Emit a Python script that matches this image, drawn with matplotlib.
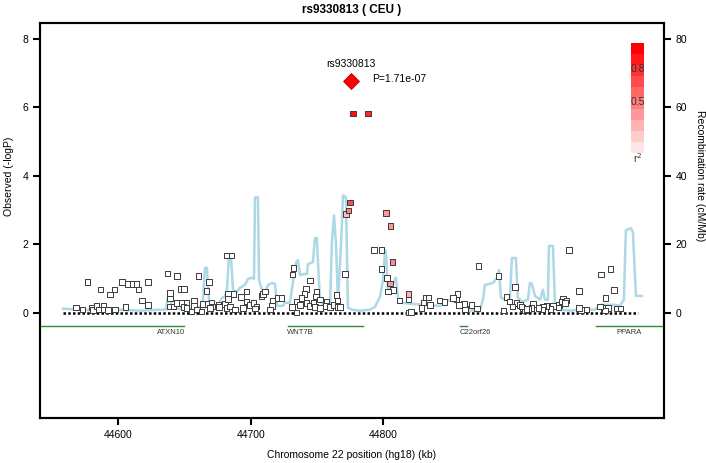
import numpy as np
import matplotlib
matplotlib.use("Agg")
import matplotlib.pyplot as plt
from matplotlib.colors import LinearSegmentedColormap

plt.rcParams['font.family'] = ['Liberation Sans', 'DejaVu Sans']

# ---------------- data ----------------
title = "rs9330813 ( CEU )"
lead_snp = "rs9330813"
lead_kb = 44775.5
lead_logp = 6.767
lead_p_label = "P=1.71e-07"

snp_kb = [
    44568.2, 44573.2, 44580.0, 44581.2, 44583.8, 44585.0, 44588.8, 44588.8, 44592.5, 44597.6,
    44605.4, 44576.7, 44586.5, 44597.1, 44593.8, 44602.9, 44607.6, 44611.0, 44614.0, 44615.2,
    44622.7, 44618.0, 44622.5, 44637.1, 44644.4, 44660.5, 44639.1, 44639.1, 44647.2, 44649.7,
    44639.1, 44641.6, 44644.6, 44648.0, 44651.7, 44649.2, 44657.2, 44657.2, 44664.2, 44667.3,
    44659.3, 44655.5, 44651.7, 44663.0, 44668.5, 44666.8,
    44681.9, 44685.7, 44683.1, 44686.9, 44692.5, 44697.0, 44670.6, 44671.3, 44669.3, 44675.6,
    44676.1, 44680.6, 44681.9, 44684.4, 44688.2, 44683.1, 44694.4, 44697.0, 44699.5, 44702.0,
    44704.5, 44703.3, 44708.3, 44709.5, 44710.8, 44716.6, 44715.9, 44720.1, 44723.4, 44714.6,
    44732.2, 44731.7, 44744.8, 44741.8, 44740.5, 44738.5, 44734.7, 44737.2, 44731.0, 44734.7,
    44742.3, 44744.8, 44749.8, 44749.3, 44752.3, 44747.3, 44748.5, 44752.3, 44757.4, 44756.8,
    44759.9, 44762.4, 44764.9, 44765.4, 44766.1, 44767.4,
    44777.2, 44788.5, 44775.0, 44773.7, 44772.0, 44771.2,
    44802.1, 44805.7, 44793.1, 44798.6, 44806.9, 44798.6, 44803.1, 44805.1, 44807.6, 44803.6,
    44812.2, 44819.0, 44819.0, 44819.7, 44821.0, 44829.1, 44830.3, 44832.1, 44834.1, 44835.3,
    44842.4, 44846.4, 44852.9, 44856.2, 44855.5, 44857.4, 44861.2, 44861.7, 44866.8, 44871.0,
    44871.8, 44886.9, 44890.7, 44893.2, 44895.2, 44899.5, 44900.8, 44903.3, 44897.7, 44905.3,
    44907.0, 44909.5,
    44940.2, 44964.4, 44971.7, 44948.0, 44974.2, 44967.9, 44935.9, 44934.7, 44938.5, 44937.2,
    44932.9, 44932.2, 44928.4, 44926.4, 44923.4, 44920.8, 44920.4, 44917.1, 44913.3, 44912.1,
    44908.3, 44904.5, 44948.0, 44949.3, 44953.6, 44963.6, 44966.6, 44969.9, 44967.4, 44976.2,
    44979.2,
]
snp_logp = [
    0.15, 0.09, 0.15, 0.07, 0.20, 0.09, 0.20, 0.09, 0.07, 0.09,
    0.17, 0.89, 0.68, 0.68, 0.53, 0.90, 0.84, 0.84, 0.84, 0.68,
    0.90, 0.35, 0.22, 1.15, 1.07, 1.07, 0.57, 0.42, 0.69, 0.69,
    0.18, 0.18, 0.28, 0.28, 0.28, 0.17, 0.36, 0.20, 0.26, 0.26,
    0.09, 0.04, 0.14, 0.04, 0.89, 0.64,
    1.67, 1.67, 0.56, 0.54, 0.46, 0.62, 0.28, 0.18, 0.14, 0.23,
    0.17, 0.25, 0.14, 0.18, 0.09, 0.40, 0.14, 0.33, 0.23, 0.28,
    0.18, 0.12, 0.49, 0.55, 0.62, 0.36, 0.20, 0.43, 0.43, 0.09,
    1.30, 1.12, 0.94, 0.69, 0.54, 0.43, 0.33, 0.23, 0.17, 0.01,
    0.28, 0.20, 0.62, 0.47, 0.38, 0.28, 0.17, 0.14, 0.33, 0.20,
    0.17, 0.23, 0.52, 0.36, 0.17, 0.17,
    5.83, 5.83, 3.22, 2.99, 2.88, 1.13,
    2.92, 2.53, 1.83, 1.83, 1.48, 1.27, 1.01, 0.85, 0.67, 0.62,
    0.36, 0.54, 0.38, 0.01, 0.02, 0.14, 0.30, 0.44, 0.44, 0.22,
    0.35, 0.32, 0.43, 0.55, 0.38, 0.23, 0.25, 0.11, 0.23, 0.12,
    1.37, 1.08, 0.06, 0.46, 0.33, 0.75, 0.28, 0.23, 0.18, 0.14,
    0.07, 0.11,
    1.83, 1.12, 1.27, 0.64, 0.67, 0.43, 0.40, 0.33, 0.35, 0.28,
    0.23, 0.15, 0.20, 0.11, 0.20, 0.18, 0.09, 0.14, 0.25, 0.14,
    0.11, 0.18, 0.14, 0.07, 0.09, 0.18, 0.14, 0.14, 0.06, 0.12,
    0.12,
]
# r^2 with lead SNP (0 = white)
snp_r2 = [0.0] * len(snp_kb)
r2_known = {
    (44777.2, 5.83): 0.95, (44788.5, 5.83): 0.85, (44775.0, 3.22): 0.7,
    (44773.7, 2.99): 0.5, (44772.0, 2.88): 0.25, (44802.1, 2.92): 0.4,
    (44805.7, 2.53): 0.4, (44806.9, 1.48): 0.45, (44805.1, 0.85): 0.4,
    (44819.0, 0.54): 0.3,
}
for i, (k, v) in enumerate(zip(snp_kb, snp_logp)):
    if (k, v) in r2_known:
        snp_r2[i] = r2_known[(k, v)]

recomb_kb = [
    44558.4, 44571.2, 44586.3, 44601.4, 44616.5, 44631.6, 44636.1, 44637.6, 44639.1, 44640.6,
    44654.2, 44661.8, 44664.0, 44665.5, 44667.0, 44668.5, 44670.8, 44675.3, 44678.4, 44680.6,
    44682.1, 44683.6, 44685.1, 44686.7, 44689.7, 44691.9, 44695.7, 44698.0, 44701.0, 44702.5,
    44703.3, 44705.5, 44706.3, 44708.5, 44710.8, 44713.1, 44716.1, 44718.4, 44719.9, 44724.4,
    44725.9, 44729.7, 44732.7, 44734.2, 44735.7, 44737.2, 44740.2, 44742.5, 44743.3, 44747.0,
    44748.5, 44750.0, 44750.8, 44752.3, 44754.6, 44759.9, 44761.4, 44762.9, 44764.4, 44765.9,
    44768.2, 44769.7, 44771.9, 44773.4, 44776.5, 44782.5, 44790.1, 44793.8, 44797.6, 44799.9,
    44801.4, 44802.1, 44803.6, 44806.7, 44809.0, 44809.7, 44811.2, 44814.2, 44820.2, 44831.6,
    44842.9, 44850.4, 44854.2, 44856.5, 44858.0, 44865.5, 44873.1, 44875.3, 44876.8, 44882.9,
    44885.9, 44887.4, 44888.9, 44891.9, 44895.7, 44897.2, 44900.2, 44901.7, 44904.8, 44909.3,
    44910.8, 44912.3, 44914.6, 44918.4, 44920.6, 44922.1, 44924.4, 44925.1, 44928.2, 44929.7,
    44933.4, 44941.0, 44948.5, 44959.9, 44963.6, 44975.0, 44978.7, 44981.7, 44983.2, 44987.0,
    44988.5, 44990.8, 44995.3,
]
recomb_rate = [
    1.16, 0.87, 0.58, 0.87, 0.58, 0.87, 0.87, 4.9, 4.9, 1.16,
    1.16, 1.45, 3.8, 13.1, 13.1, 3.8, 1.7, 2.0, 4.4, 4.6,
    6.7, 16.5, 16.5, 6.7, 6.1, 7.3, 8.1, 9.9, 10.2, 9.9,
    33.7, 33.7, 9.6, 6.7, 5.8, 8.1, 8.7, 8.4, 2.0, 2.0,
    2.9, 2.9, 11.0, 14.5, 15.4, 11.0, 11.3, 11.3, 14.2, 14.8,
    21.8, 21.8, 14.8, 3.8, 2.3, 2.3, 21.2, 28.4, 20.3, 2.9,
    20.0, 34.3, 33.7, 1.45, 0.87, 0.58, 0.87, 1.7, 4.6, 9.6,
    18.3, 17.7, 6.7, 7.5, 9.9, 10.2, 4.4, 2.9, 2.6, 2.3,
    2.0, 3.8, 4.4, 4.1, 1.7, 0.58, 0.87, 3.8, 8.1, 8.7,
    10.2, 12.5, 4.4, 3.8, 4.4, 16.0, 16.0, 4.4, 3.2, 3.8,
    8.7, 8.4, 4.9, 3.8, 6.7, 3.8, 3.8, 19.5, 19.5, 2.3,
    0.87, 0.58, 0.87, 0.87, 2.3, 2.3, 2.0, 3.8, 24.1, 24.7,
    23.5, 4.9, 4.9,
]

gene_names = ["ATXN10", "WNT7B", "C22orf26", "PPARA"]
gene_start = [44500.0, 44728.0, 44858.0, 44960.6]
gene_end = [44649.7, 44784.5, 44863.0, 45030.0]
gene_label_kb = [44640.2, 44737.2, 44869.7, 44985.3]
gene_y = -0.4
gene_label_y = -0.58

xticks = [44600, 44700, 44800]
yticks_left = [0, 2, 4, 6, 8]
yticks_right = [0, 20, 40, 60, 80]
legend_levels = [0.1, 0.2, 0.3, 0.4, 0.5, 0.6, 0.7, 0.8, 0.9, 1.0]

xlim = (44541.0, 45011.6)
ylim = (-3.08, 8.47)

# ---------------- plot ----------------
W, H = 706, 463
fig = plt.figure(figsize=(W / 100, H / 100), dpi=100)
ax = fig.add_axes([40 / W, 1 - 418 / H, (663.5 - 40) / W, (418 - 23) / H])
ax2 = ax.twinx()

cmap = LinearSegmentedColormap.from_list("r2", ["#FFFFFF", "#FF0000"])

ax.set_xlim(*xlim)
ax.set_ylim(*ylim)
ax2.set_ylim(ylim[0] * 10, ylim[1] * 10)

ax2.plot(recomb_kb, recomb_rate, color="#ADD8E6", lw=1.8, zorder=1)

ax.set_zorder(ax2.get_zorder() + 1)
ax.patch.set_visible(False)

# baseline dotted line
ax.plot([44558.4, 44992.3], [0, 0], color="black", lw=1.8, linestyle=(0, (1, 0.9)), zorder=2)

# genes
for name, s, e, lk in zip(gene_names, gene_start, gene_end, gene_label_kb):
    ax.plot([s, e], [gene_y, gene_y], color="#2E8B2E", lw=1.0, zorder=2)
    ax.text(lk, gene_label_y, name, fontsize=5.5, ha="center", va="center", color="#333333")

# SNPs
cols = [cmap(r) if r > 0 else "white" for r in snp_r2]
order = np.argsort(snp_r2)
ax.scatter(np.array(snp_kb)[order], np.array(snp_logp)[order], s=16, marker="s",
           c=[cols[i] for i in order], edgecolors="#3a3a3a", linewidths=0.7, zorder=3)

# lead SNP
ax.plot([lead_kb], [lead_logp], marker="D", ms=8.5, color="#FF0000", mec="#B00000", mew=0.6, zorder=4)
ax.text(lead_kb, 7.27, lead_snp, fontsize=7.5, ha="center", va="center")
ax.text(44791.6, 6.82, lead_p_label, fontsize=7.5, ha="left", va="center")

# r2 legend
bx0, bx1 = (631 - 40) / 623.5, (644 - 40) / 623.5
by_bottom = 1 - (153.3 - 23) / 395
by_top = 1 - (43.3 - 23) / 395
n = len(legend_levels)
hstep = (by_top - by_bottom) / n
for i, lv in enumerate(legend_levels):
    ax.add_patch(plt.Rectangle((bx0, by_bottom + i * hstep), bx1 - bx0, hstep,
                               transform=ax.transAxes, color=cmap(lv), lw=0, zorder=3))
bxc = (bx0 + bx1) / 2
for lbl, ypx in (("0.8", 69.3), ("0.5", 102.3), ("r$^2$", 158.3)):
    ax.text(bxc, 1 - (ypx - 23) / 395, lbl, transform=ax.transAxes, fontsize=7.5,
            ha="center", va="center", color="#333333", zorder=4)

# axes styling
for a in (ax, ax2):
    for sp in a.spines.values():
        sp.set_linewidth(1.5)
ax.set_xticks(xticks)
ax.set_xticklabels([str(t) for t in xticks])
ax.set_yticks(yticks_left)
ax2.set_yticks(yticks_right)
ax.tick_params(axis="both", labelsize=7.5, length=5, width=1.5, direction="out", pad=3.5)
ax2.tick_params(axis="y", labelsize=7.5, length=5, width=1.5, direction="out", pad=3.5)

y_mid = (4 - ylim[0]) / (ylim[1] - ylim[0])
ax.text(-0.05, y_mid, "Observed (-logP)", transform=ax.transAxes, rotation=90,
        fontsize=7.5, ha="center", va="center")
ax.text(1.0585, y_mid, "Recombination rate (cM/Mb)", transform=ax.transAxes, rotation=270,
        fontsize=7.5, ha="center", va="center")
ax.text(0.5, -(455 - 418) / 395, "Chromosome 22 position (hg18) (kb)", transform=ax.transAxes,
        fontsize=7.5, ha="center", va="center")
fig.text((40 + 663.5) / 2 / W, 1 - 10 / H, title, fontsize=8.5, fontweight="bold",
         ha="center", va="center")

fig.savefig("out.png", dpi=100)
